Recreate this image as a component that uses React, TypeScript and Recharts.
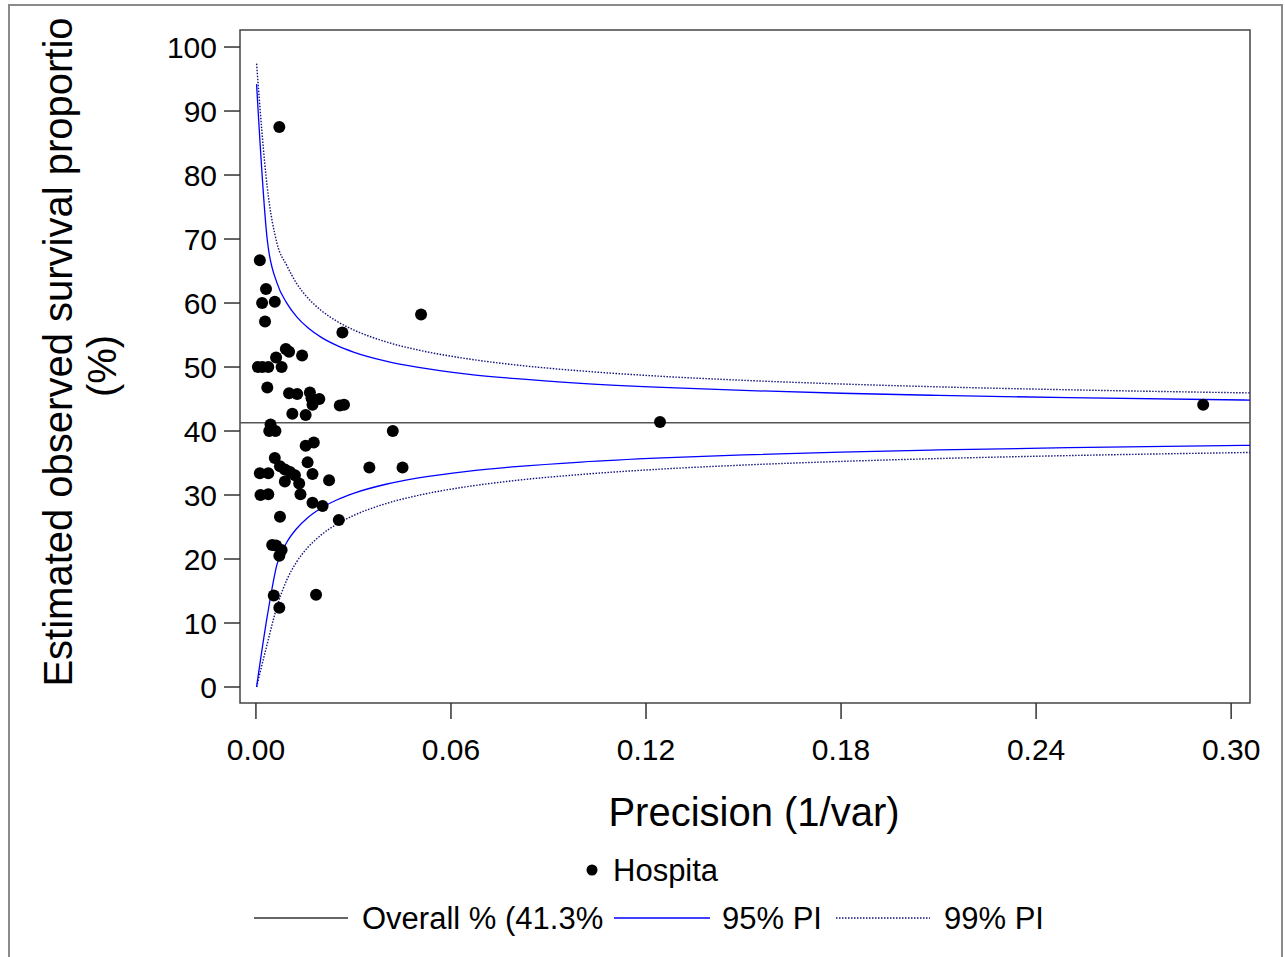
import React from 'react';
import { ComposedChart, Line, Scatter, XAxis, YAxis, ReferenceLine, ReferenceArea } from 'recharts';

const FONT = '"Liberation Sans", Arial, sans-serif';

// hospitals: precision (1/var) and observed survival %
const HOSP_X = [
  0.0072, 0.0012, 0.0031, 0.0019, 0.0058, 0.0028, 0.0266, 0.0508, 0.0092, 0.0102,
  0.0062, 0.0142, 0.0006, 0.002, 0.0038, 0.0079, 0.0035, 0.0102, 0.0127, 0.0166,
  0.0171, 0.0195, 0.0174, 0.0258, 0.0271, 0.0112, 0.0153, 0.0045, 0.0041, 0.006,
  0.0421, 0.1243, 0.2914, 0.0153, 0.0178, 0.0058, 0.0159, 0.0074, 0.0089, 0.0105,
  0.012, 0.0012, 0.0038, 0.0174, 0.0349, 0.0451, 0.0089, 0.0133, 0.0225, 0.0137,
  0.0014, 0.0038, 0.0174, 0.0205, 0.0255, 0.0074, 0.005, 0.0062, 0.0079, 0.0072,
  0.0055, 0.0185, 0.0072,
];
const HOSP_Y = [
  87.5, 66.7, 62.2, 60.0, 60.2, 57.1, 55.4, 58.2, 52.8, 52.4,
  51.5, 51.8, 50.0, 50.0, 50.0, 50.0, 46.8, 45.9, 45.8, 46.0,
  45.1, 45.0, 44.1, 44.0, 44.1, 42.7, 42.5, 41.0, 40.0, 40.0,
  40.0, 41.4, 44.1, 37.7, 38.2, 35.8, 35.1, 34.5, 34.0, 33.6,
  33.1, 33.4, 33.4, 33.3, 34.3, 34.3, 32.1, 31.8, 32.3, 30.1,
  30.0, 30.1, 28.8, 28.3, 26.1, 26.6, 22.2, 22.1, 21.4, 20.5,
  14.3, 14.4, 12.4,
];

// funnel limits
const CURVE_X = [0.0002, 0.0035, 0.0065, 0.0095, 0.0125, 0.016, 0.02, 0.025, 0.03, 0.04, 0.05, 0.065, 0.08, 0.1, 0.125, 0.15, 0.18, 0.21, 0.25, 0.306];
const UPPER_95 = [94.2, 69.8, 63.1, 59.99, 57.87, 56.12, 54.67, 53.34, 52.34, 50.92, 49.94, 48.9, 48.17, 47.45, 46.81, 46.34, 45.9, 45.56, 45.21, 44.83];
const LOWER_95 = [0.0, 11.1, 19.2, 22.61, 24.73, 26.48, 27.93, 29.26, 30.26, 31.68, 32.66, 33.7, 34.43, 35.15, 35.79, 36.26, 36.7, 37.04, 37.39, 37.77];
const UPPER_99 = [97.4, 78.0, 69.3, 65.86, 63.07, 60.77, 58.87, 57.12, 55.81, 53.94, 52.65, 51.29, 50.32, 49.39, 48.54, 47.92, 47.35, 46.9, 46.44, 45.95];
const LOWER_99 = [0.0, 6.8, 12.6, 16.74, 19.53, 21.83, 23.73, 25.48, 26.79, 28.66, 29.95, 31.31, 32.28, 33.21, 34.06, 34.68, 35.25, 35.7, 36.16, 36.65];

const OVERALL = 41.3;
const X_TICKS = [0, 0.06, 0.12, 0.18, 0.24, 0.3];
const Y_TICKS = [0, 10, 20, 30, 40, 50, 60, 70, 80, 90, 100];
const X_DOMAIN = [-0.0049, 0.3058];
const Y_DOMAIN = [-2.5, 102.66];

const hospitals = HOSP_X.map((x, i) => ({ x, y: HOSP_Y[i] }));
const limits = CURVE_X.map((x, i) => ({
  x,
  u95: UPPER_95[i],
  l95: LOWER_95[i],
  u99: UPPER_99[i],
  l99: LOWER_99[i],
}));

const BLUE = '#0000ff';
const DOT_BLUE = '#12127e';

const Dot = (props: any) => <circle cx={props.cx} cy={props.cy} r={6} fill="#000" />;

const YTitle = () => (
  <g fontFamily={FONT} fontSize={40} fill="#000">
    <text x={64} y={348} transform="rotate(-90 64 348)" textAnchor="middle">
      Estimated observed survival proportio
    </text>
    <text x={108} y={362} transform="rotate(-90 108 362)" textAnchor="middle">
      (%)
    </text>
  </g>
);

const XTitle = () => (
  <text x={746} y={822} textAnchor="middle" fontFamily={FONT} fontSize={40} fill="#000">
    Precision (1/var)
  </text>
);

export default function App() {
  const tickStyle = { fontSize: 30, fill: '#000', fontFamily: FONT };
  return (
    <div style={{ position: 'relative', margin: '4px 0 0 8px', width: 1275, height: 960 }}>
      <style>{'body{margin:0;}'}</style>
      <div
        style={{
          position: 'absolute',
          left: 0,
          top: 0,
          width: 1275,
          height: 960,
          border: '2px solid #8a8a8a',
          boxSizing: 'border-box',
        }}
      />
      <div style={{ position: 'absolute', left: 0, top: 0 }}>
        <ComposedChart width={1275} height={839} margin={{ top: 26, right: 33, bottom: 0, left: 0 }}>
          <XAxis
            type="number"
            dataKey="x"
            domain={X_DOMAIN}
            ticks={X_TICKS}
            interval={0}
            allowDataOverflow
            height={140}
            tickSize={16}
            tickMargin={20}
            axisLine={false}
            tickLine={{ stroke: '#333', strokeWidth: 1.5 }}
            tick={tickStyle}
            tickFormatter={(v: number) => v.toFixed(2)}
            label={{ content: () => <XTitle /> }}
          />
          <YAxis
            type="number"
            domain={Y_DOMAIN}
            ticks={Y_TICKS}
            interval={0}
            allowDataOverflow
            width={232}
            tickSize={16}
            tickMargin={7}
            axisLine={false}
            tickLine={{ stroke: '#333', strokeWidth: 1.5 }}
            tick={tickStyle}
            label={{ content: () => <YTitle /> }}
          />
          <ReferenceArea
            x1={X_DOMAIN[0]}
            x2={X_DOMAIN[1]}
            y1={Y_DOMAIN[0]}
            y2={Y_DOMAIN[1]}
            fill="none"
            stroke="#444"
            strokeWidth={1.5}
            ifOverflow="visible"
          />
          <ReferenceLine y={OVERALL} stroke="#555" strokeWidth={1.5} />
          <Line data={limits} dataKey="u99" type="monotone" stroke={DOT_BLUE} strokeWidth={1.4} strokeDasharray="1.5 1.5" dot={false} isAnimationActive={false} />
          <Line data={limits} dataKey="l99" type="monotone" stroke={DOT_BLUE} strokeWidth={1.4} strokeDasharray="1.5 1.5" dot={false} isAnimationActive={false} />
          <Line data={limits} dataKey="u95" type="monotone" stroke={BLUE} strokeWidth={1.3} dot={false} isAnimationActive={false} />
          <Line data={limits} dataKey="l95" type="monotone" stroke={BLUE} strokeWidth={1.3} dot={false} isAnimationActive={false} />
          <Scatter data={hospitals} dataKey="y" shape={Dot} isAnimationActive={false} />
        </ComposedChart>
      </div>
      {/* legend */}
      <svg width={1275} height={960} style={{ position: 'absolute', left: 0, top: 0, pointerEvents: 'none' }}>
        <g fontFamily={FONT} fontSize={31} fill="#000">
          <circle cx={584} cy={866} r={5.5} fill="#000" />
          <text x={605} y={877}>Hospita</text>
          <line x1={246} x2={340} y1={914} y2={914} stroke="#333" strokeWidth={1.5} />
          <text x={354} y={925}>Overall % (41.3%</text>
          <line x1={606} x2={702} y1={914} y2={914} stroke={BLUE} strokeWidth={1.3} />
          <text x={714} y={925}>95% PI</text>
          <line x1={828} x2={922} y1={914} y2={914} stroke={DOT_BLUE} strokeWidth={1.4} strokeDasharray="1.5 1.5" />
          <text x={936} y={925}>99% PI</text>
        </g>
      </svg>
    </div>
  );
}
